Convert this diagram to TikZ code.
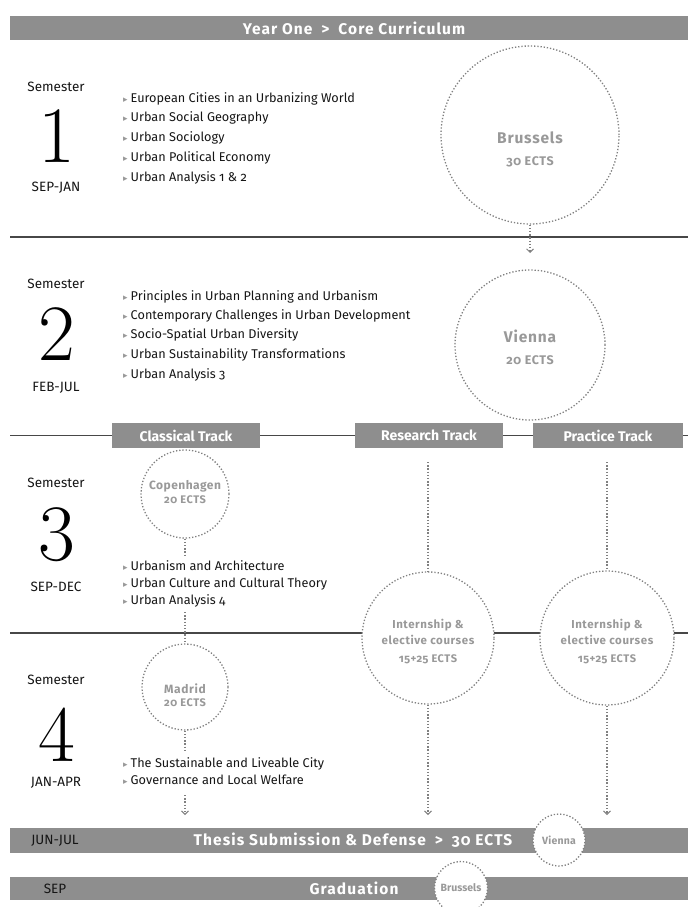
\documentclass[tikz,border=0pt]{standalone}
\usepackage{fontspec}
\setsansfont[Numbers=OldStyle]{Fira Sans}
\renewcommand\familydefault{\sfdefault}
\newfontfamily\symf{DejaVu Sans}
\usetikzlibrary{arrows.meta}
\definecolor{bargray}{HTML}{8E8E8E}
\definecolor{citygray}{HTML}{999999}
\definecolor{dotgray}{HTML}{808080}
\definecolor{rulegray}{HTML}{474747}
\definecolor{inkc}{HTML}{151515}
\newcommand\bul{{\symf\color{citygray}\fontsize{9}{9}\selectfont ▸}\hspace{3pt}}
\newcommand\gtsep{\hspace{9pt}>\hspace{9pt}}
\begin{document}
\begin{tikzpicture}[x=1pt,y=-1pt,
  bar/.style={fill=bargray},
  bartext/.style={text=white, font=\bfseries\fontsize{15.5}{15.5}\selectfont\addfontfeature{LetterSpace=7}, inner sep=0},
  tracktext/.style={fill=bargray, text=white, font=\bfseries\fontsize{14}{14}\selectfont, minimum height=25pt, inner sep=0},
  rowtext/.style={text=inkc, font=\fontsize{13.5}{13.5}\selectfont, inner sep=0},
  semlabel/.style={text=inkc, font=\fontsize{13.5}{13.5}\selectfont, inner sep=0},
  bignum/.style={text=black, font=\rmfamily\fontsize{80}{80}\selectfont, inner sep=0},
  item/.style={anchor=base west, text=inkc, font=\fontsize{12.7}{14}\selectfont, inner sep=0},
  city/.style={circle, draw=dotgray, line width=1.3pt, dash pattern=on 1.3pt off 1.9pt, fill=white,
     minimum size=#1, inner sep=0},
  citytext/.style={text=citygray, align=center, inner sep=0,
     font=\bfseries\fontsize{#1}{#1}\selectfont\addfontfeature{LetterSpace=5}},
  conn/.style={draw=dotgray, line width=1.3pt, dash pattern=on 1.3pt off 1.9pt},
  arr/.style={conn, -{Straight Barb[length=3.5pt,width=7pt,line width=0.9pt]}},
  rulel/.style={draw=rulegray, line width=1.1pt}
]
\useasboundingbox (0,0) rectangle (688,907);

% ---------- top bar
\fill[bar] (10,16) rectangle (688,40);
\node[bartext] (yearone) at (354,28) {Year One\gtsep Core Curriculum};

% ---------- rules
\draw[rulel] (10,237) -- (688,237);
\draw[rulel] (10,435.5) -- (688,435.5);
\draw[rulel] (10,633) -- (688,633);

% ---------- semester 1
\node[semlabel] (sem1) at (56,87) {Semester};
\node[bignum] (n1) at (57,136) {1};
\node[semlabel] (m1) at (56,188) {SEP-JAN};
\node[item] (i11) at (123,102) {\bul European Cities in an Urbanizing World};
\node[item] (i12) at (123,121.5) {\bul Urban Social Geography};
\node[item] (i13) at (123,141) {\bul Urban Sociology};
\node[item] (i14) at (123,161) {\bul Urban Political Economy};
\node[item] (i15) at (123,181) {\bul Urban Analysis 1 \& 2};
\node[city=178pt] (brussels) at (530,135) {};
\node[citytext=15.5] (brusname) at (530,138) {Brussels};
\node[citytext=12.5] (brusects) at (530,162) {30 ECTS};
\coordinate (brusend) at (530,253);
\draw[arr] (brussels.south) -- (brusend);

% ---------- semester 2
\node[semlabel] (sem2) at (56,284) {Semester};
\node[bignum] (n2) at (57,334) {2};
\node[semlabel] (m2) at (56,388) {FEB-JUL};
\node[item] (i21) at (123,300) {\bul Principles in Urban Planning and Urbanism};
\node[item] (i22) at (123,319) {\bul Contemporary Challenges in Urban Development};
\node[item] (i23) at (123,338.5) {\bul Socio-Spatial Urban Diversity};
\node[item] (i24) at (123,358) {\bul Urban Sustainability Transformations};
\node[item] (i25) at (123,378) {\bul Urban Analysis 3};
\node[city=150pt] (vienna) at (530,345) {};
\node[citytext=15.5] (vienname) at (530,336) {Vienna};
\node[citytext=12.5] (vienects) at (530,360) {20 ECTS};

% ---------- track boxes
\node[tracktext, minimum width=148pt] (classical) at (186,435.5) {Classical Track};
\node[tracktext, minimum width=148pt] (research) at (429,435.5) {Research Track};
\node[tracktext, minimum width=150pt] (practice) at (608,435.5) {Practice Track};

% ---------- semester 3
\node[semlabel] (sem3) at (56,483) {Semester};
\node[bignum] (n3) at (57,535) {3};
\node[semlabel] (m3) at (56,587) {SEP-DEC};
\node[city=88pt] (copenhagen) at (185,494) {};
\node[citytext=12, font=\bfseries\fontsize{12}{12}\selectfont\addfontfeature{LetterSpace=4}] (copname) at (185,486) {Copenhagen};
\node[citytext=11] (copects) at (185,500) {20 ECTS};
\node[item] (i31) at (123,570.5) {\bul Urbanism and Architecture};
\node[item] (i32) at (123,587.5) {\bul Urban Culture and Cultural Theory};
\node[item] (i33) at (123,604) {\bul Urban Analysis 4};
\coordinate (copend) at (185,556);
\draw[conn] (copenhagen.south) -- (copend);

% ---------- internship circles
\coordinate (restop) at (428,462);
\coordinate (practop) at (607,462);
\node[city=132pt] (intres) at (428,638) {};
\node[city=134pt] (intprac) at (607,638) {};
\node[citytext=11.5] (intrestxt) at (428,632) {Internship \&\\[3pt]elective courses};
\node[citytext=11] (intresects) at (428,659) {15+25 ECTS};
\node[citytext=11.5] (intpractxt) at (607,632) {Internship \&\\[3pt]elective courses};
\node[citytext=11] (intpracects) at (607,659) {15+25 ECTS};
\draw[conn] (restop) -- (intres.north);
\draw[conn] (practop) -- (intprac.north);

% ---------- semester 4
\node[semlabel] (sem4) at (56,680) {Semester};
\node[bignum] (n4) at (57,735) {4};
\node[semlabel] (m4) at (56,783) {JAN-APR};
\coordinate (madtop) at (185,612);
\node[city=86pt] (madrid) at (185,687) {};
\node[citytext=12] (madname) at (185,689) {Madrid};
\node[citytext=11] (madects) at (185,703) {20 ECTS};
\draw[conn] (madtop) -- (madrid.north);
\node[item] (i41) at (123,767) {\bul The Sustainable and Liveable City};
\node[item] (i42) at (123,784) {\bul Governance and Local Welfare};
\coordinate (madend) at (185,750);
\draw[conn] (madrid.south) -- (madend);
\coordinate (clsstart) at (185,795);
\coordinate (clsend) at (185,815);
\draw[arr] (clsstart) -- (clsend);
\coordinate (resend) at (428,815);
\coordinate (pracend) at (607,815);
\draw[arr] (intres.south) -- (resend);
\draw[arr] (intprac.south) -- (pracend);

% ---------- thesis bar
\fill[bar] (10,828) rectangle (688,853);
\node[rowtext] (junjul) at (55,840.5) {JUN-JUL};
\node[bartext] (thesis) at (353,840.5) {Thesis Submission \& Defense\gtsep 30 ECTS};
\node[city=52pt] (viennasmall) at (559,840) {};
\node[citytext=10.5, font=\bfseries\fontsize{10.5}{10.5}\selectfont\addfontfeature{LetterSpace=2}] (viennasmtxt) at (559,840) {Vienna};

% ---------- graduation bar
\fill[bar] (10,877) rectangle (688,900);
\node[rowtext] (sep) at (55,888.5) {SEP};
\node[bartext] (grad) at (354,888.5) {Graduation};
\node[city=53pt] (brusselssmall) at (461,888) {};
\node[citytext=10.5, font=\bfseries\fontsize{10.5}{10.5}\selectfont] (brussmtxt) at (461,888) {Brussels};
\end{tikzpicture}
\end{document}
